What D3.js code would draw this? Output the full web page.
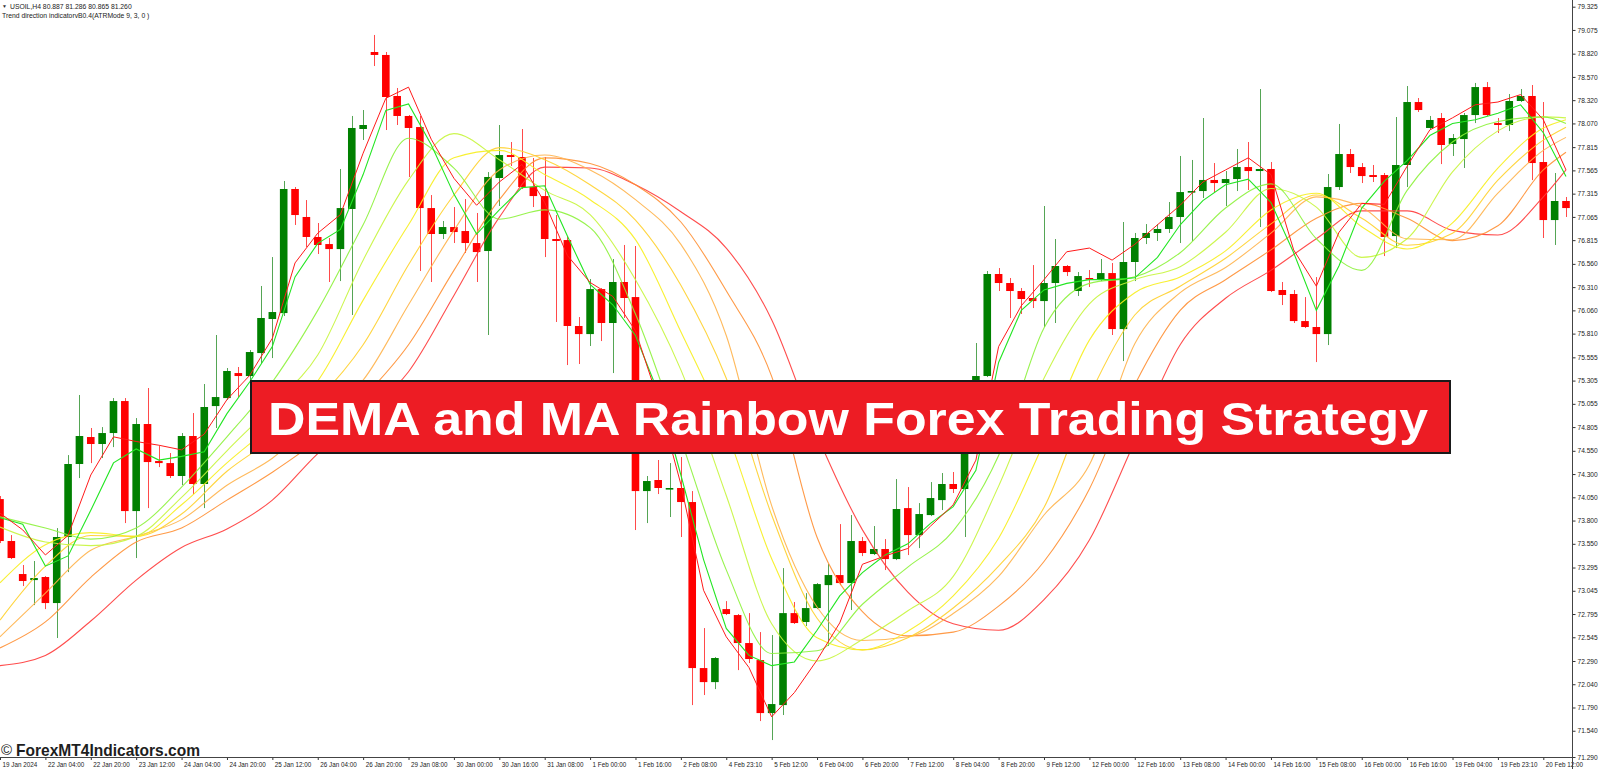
<!DOCTYPE html>
<html><head><meta charset="utf-8">
<script src="https://cdn.jsdelivr.net/npm/d3@7"></script>
<style>
html,body{margin:0;padding:0;background:#fff;overflow:hidden}
svg{display:block}
</style></head><body>
<svg id="chart" width="1600" height="769"></svg>
<script>
const symbolInfo = "USOIL,H4  80.887 81.286 80.865 81.260";
const indicatorInfo = "Trend direction indicatorvB0.4(ATRMode 9, 3, 0 )";
const titleText = "DEMA and MA Rainbow Forex Trading Strategy";
const watermarkText = "ForexMT4Indicators.com";

const timeLabels = ["19 Jan 2024","22 Jan 04:00","22 Jan 20:00","23 Jan 12:00","24 Jan 04:00","24 Jan 20:00","25 Jan 12:00","26 Jan 04:00","26 Jan 20:00","29 Jan 08:00","30 Jan 00:00","30 Jan 16:00","31 Jan 08:00","1 Feb 00:00","1 Feb 16:00","2 Feb 08:00","4 Feb 23:10","5 Feb 12:00","6 Feb 04:00","6 Feb 20:00","7 Feb 12:00","8 Feb 04:00","8 Feb 20:00","9 Feb 12:00","12 Feb 00:00","12 Feb 16:00","13 Feb 08:00","14 Feb 00:00","14 Feb 16:00","15 Feb 08:00","16 Feb 00:00","16 Feb 16:00","19 Feb 04:00","19 Feb 23:10","20 Feb 12:00"];
const priceLabels = ["79.325","79.075","78.820","78.570","78.320","78.070","77.815","77.565","77.315","77.065","76.815","76.560","76.310","76.060","75.810","75.555","75.305","75.055","74.805","74.550","74.300","74.050","73.800","73.550","73.295","73.045","72.795","72.545","72.290","72.040","71.790","71.540","71.290"];

const opens = [74.031,73.580,73.225,73.160,73.193,72.913,73.623,74.408,74.698,74.623,74.741,75.085,73.902,74.838,74.440,74.418,74.279,74.709,74.193,75.031,75.117,75.386,75.354,75.601,75.967,76.031,77.365,77.064,76.849,76.773,76.719,77.150,78.010,78.838,78.806,78.365,78.150,78.031,77.160,76.881,76.956,76.913,76.784,76.698,77.483,77.730,77.709,77.386,77.289,76.827,76.816,75.892,75.805,76.289,75.924,76.365,76.203,74.117,74.236,74.139,74.150,73.999,72.214,72.063,72.848,72.784,72.483,72.300,71.730,71.816,72.805,72.709,72.859,73.106,73.214,73.128,73.580,73.440,73.494,73.386,73.934,73.644,73.859,74.020,74.193,74.139,74.881,75.354,76.451,76.354,76.268,76.193,76.160,76.354,76.537,76.268,76.408,76.397,76.461,75.859,76.580,76.838,76.892,76.935,77.064,77.332,77.343,77.462,77.429,77.472,77.601,77.558,77.580,76.279,76.236,75.945,75.881,75.805,77.386,77.741,77.601,77.515,77.515,76.859,77.623,78.300,78.021,78.128,77.849,77.902,78.160,78.461,78.074,78.053,78.311,78.365,77.655,77.031,77.236];
const highs = [74.064,73.644,73.322,73.365,73.203,73.719,74.504,75.150,74.795,74.805,75.117,75.117,74.902,75.225,74.601,74.526,74.741,74.956,75.268,75.795,75.440,75.451,75.633,76.322,76.633,77.451,77.386,77.246,76.999,76.838,77.580,78.150,78.214,79.021,78.838,78.451,78.160,78.150,77.300,77.021,77.171,77.257,77.107,77.547,78.053,77.870,78.010,77.698,77.709,77.085,76.859,75.988,76.397,76.300,76.612,76.763,76.752,74.279,74.451,74.418,74.483,74.117,72.644,72.332,72.934,72.795,72.805,72.601,72.569,73.289,72.924,73.020,73.128,73.332,73.762,73.859,73.623,73.741,73.601,74.246,74.160,73.988,74.214,74.311,74.322,74.935,75.709,76.483,76.515,76.408,76.300,76.547,77.182,76.827,76.547,76.472,76.494,76.612,76.569,77.010,76.892,76.988,76.988,77.225,77.720,77.677,78.128,77.644,77.558,77.795,77.870,78.440,77.655,76.365,76.279,76.203,76.418,77.526,78.064,77.795,77.644,77.623,77.537,78.139,78.472,78.343,78.150,78.182,77.956,78.182,78.505,78.515,78.128,78.386,78.440,78.483,78.300,77.537,77.279];
const lows = [73.558,73.386,73.096,72.891,72.848,72.537,73.246,74.257,74.418,74.472,74.590,73.773,73.397,73.934,74.375,74.257,74.182,74.085,73.934,74.795,75.096,75.128,75.311,75.494,75.547,75.999,76.978,76.741,76.666,76.365,76.375,76.010,77.892,78.687,77.999,78.053,77.494,76.483,76.365,76.827,76.784,76.677,76.365,75.795,77.182,77.612,77.365,77.171,76.633,75.935,75.472,75.483,75.677,75.730,75.386,75.978,73.698,73.773,74.085,73.838,73.623,71.816,71.924,71.988,72.784,72.192,72.268,71.644,71.440,71.709,72.688,72.666,72.848,72.451,73.106,72.838,73.418,73.429,73.268,73.375,73.429,73.504,73.848,73.913,74.096,73.623,74.827,75.343,76.268,75.978,76.021,76.085,75.881,75.924,76.429,76.214,76.311,76.375,75.795,75.515,76.375,76.773,76.806,76.892,76.784,76.806,77.268,77.322,77.182,77.343,77.354,76.956,76.257,76.117,75.924,75.870,75.504,75.687,77.354,77.537,77.429,77.440,76.644,76.730,77.386,78.193,78.010,77.633,77.720,77.591,78.074,78.150,77.967,77.988,78.300,77.461,76.838,76.763,77.064];
const closes = [73.580,73.397,73.150,73.182,72.913,73.623,74.408,74.709,74.623,74.741,75.085,73.902,74.838,74.429,74.418,74.279,74.709,74.193,75.021,75.128,75.408,75.354,75.612,75.978,76.042,77.365,77.085,76.849,76.763,76.719,77.160,78.021,78.053,78.806,78.354,78.150,78.021,77.160,76.881,76.956,76.902,76.784,76.687,77.494,77.730,77.709,77.386,77.289,76.827,76.806,75.892,75.805,76.289,75.924,76.365,76.193,74.117,74.225,74.150,74.150,73.999,72.214,72.063,72.322,72.795,72.483,72.311,71.730,71.827,72.805,72.698,72.859,73.117,73.214,73.128,73.580,73.451,73.494,73.386,73.924,73.644,73.870,74.042,74.193,74.139,74.881,75.354,76.451,76.354,76.268,76.182,76.160,76.354,76.537,76.472,76.429,76.397,76.461,75.859,76.580,76.838,76.892,76.935,77.064,77.332,77.343,77.462,77.429,77.472,77.601,77.558,77.580,76.268,76.225,75.945,75.881,75.805,77.386,77.741,77.601,77.504,77.494,76.849,77.623,78.300,78.214,78.107,77.838,77.913,78.160,78.461,78.160,78.053,78.311,78.365,77.644,77.031,77.236,77.160];

// indicator readings (every 2nd bar for the fast lines, every 4th for the rainbow MAs)
const demaValues = [73.88,73.70,73.43,73.64,74.29,74.70,74.65,74.61,74.56,74.73,75.10,75.36,75.76,76.57,76.89,77.09,77.75,78.34,78.46,77.90,77.48,77.19,77.44,77.63,77.22,76.65,76.36,76.21,75.84,75.10,74.19,73.05,72.55,72.22,71.69,71.95,72.30,72.70,73.33,73.42,73.50,73.74,73.97,74.45,75.67,76.11,76.39,76.69,76.73,76.60,76.77,76.98,77.19,77.44,77.57,77.70,77.52,76.71,76.32,76.90,77.21,77.20,77.61,78.00,78.13,78.27,78.30,78.38,78.11,77.57];
const ma1Values = [73.83,73.76,73.31,73.42,73.91,74.42,74.57,74.45,74.49,74.54,74.95,75.29,75.67,76.42,76.78,76.93,77.52,78.21,78.28,77.84,77.31,76.88,77.14,77.38,77.40,76.86,76.34,76.12,75.79,75.18,74.29,73.38,72.64,72.35,72.24,72.28,72.62,72.99,73.24,73.43,73.55,73.77,73.95,74.34,75.50,76.06,76.28,76.35,76.39,76.39,76.41,76.63,76.98,77.24,77.41,77.47,77.22,76.68,76.06,76.54,77.16,77.45,77.67,77.94,78.07,78.11,78.18,78.27,77.97,77.50];
const ma2Values = [73.84,73.72,73.60,73.72,74.16,74.70,75.29,76.06,76.98,77.91,77.59,77.04,77.14,76.95,76.02,74.67,73.27,72.37,72.40,72.90,73.30,73.69,74.50,75.87,76.35,76.42,76.68,77.16,77.42,76.83,76.49,77.35,77.87,78.09,78.14,78.07];
const ma3Values = [73.73,73.57,73.53,73.63,74.05,74.55,75.04,75.58,76.60,77.46,77.96,77.68,77.35,77.09,76.39,75.42,74.07,72.69,72.29,72.52,72.83,73.20,74.17,75.33,76.13,76.39,76.53,76.90,77.37,77.17,76.63,76.83,77.55,77.99,78.14,78.13];
const ma4Values = [73.13,73.54,73.67,73.63,73.97,74.42,74.83,75.30,76.17,76.98,77.70,77.78,77.52,77.25,76.82,75.83,74.77,73.39,72.54,72.41,72.61,72.99,73.61,74.64,75.74,76.25,76.42,76.70,77.14,77.32,76.96,76.72,77.00,77.59,78.02,78.11];
const ma5Values = [72.73,73.31,73.64,73.63,73.87,74.33,74.68,75.10,75.69,76.55,77.30,77.81,77.68,77.41,77.03,76.33,75.33,73.86,72.75,72.41,72.54,72.86,73.31,73.94,75.14,76.01,76.32,76.62,76.99,77.30,77.05,76.76,76.89,77.46,77.89,78.03];
const ma6Values = [72.55,73.02,73.48,73.63,73.81,74.18,74.47,74.90,75.31,76.12,76.92,77.57,77.73,77.57,77.25,76.77,75.79,73.96,72.87,72.51,72.55,72.80,73.20,73.86,74.40,75.70,76.25,76.52,76.89,77.28,77.17,76.83,76.82,77.32,77.78,77.92];
const ma7Values = [72.43,72.71,73.19,73.57,73.72,74.02,74.32,74.67,75.12,75.69,76.49,77.25,77.70,77.64,77.41,77.01,76.27,75.35,73.62,72.82,72.56,72.60,72.88,73.36,74.14,75.26,76.06,76.39,76.71,77.05,77.21,77.05,76.81,76.97,77.57,77.76];
const ma8Values = [72.24,72.35,72.72,73.16,73.51,73.71,74.02,74.52,74.93,75.40,76.22,77.06,77.60,77.59,77.41,77.12,76.73,75.96,74.72,73.70,73.03,72.69,72.62,72.95,73.59,74.65,75.69,76.19,76.49,76.83,77.13,77.13,76.92,76.87,77.28,77.57];

const lineColors = ["#ff1a1a","#22e622","#8cf23a","#c6f53c","#f7ee1c","#ffd02a","#ffb24a","#ff8f33","#ff3a3a"];

const fastIdx = d3.range(0, 139, 2);
const slowIdx = d3.range(0, 137, 4).concat([138]);
const tickBars = d3.range(0, 137, 4);

const plotRight = 1572.5, plotBottom = 757;
const svg = d3.select('#chart');
const x = d3.scaleLinear().domain([0, 138]).range([0, 1566]);
const y = d3.scaleLinear().domain([71.290, 79.325]).range([754, 6.7]);

svg.append('rect').attr('width',1600).attr('height',769).attr('fill','#fff');
svg.append('defs').append('clipPath').attr('id','plotclip')
  .append('rect').attr('x',0).attr('y',0).attr('width',plotRight).attr('height',plotBottom);
const g = svg.append('g').attr('clip-path','url(#plotclip)');

// candles
const bars = d3.range(opens.length).map(i => ({i, o:opens[i], h:highs[i], l:lows[i], c:closes[i]}));
g.append('g').selectAll('line').data(bars).join('line')
  .attr('x1', d => Math.round(x(d.i)) + 0.5).attr('x2', d => Math.round(x(d.i)) + 0.5)
  .attr('y1', d => y(d.h)).attr('y2', d => y(d.l))
  .attr('stroke', d => d.c >= d.o ? '#55a555' : '#ff4a4a').attr('stroke-width', 1);
g.append('g').selectAll('rect').data(bars).join('rect')
  .attr('x', d => x(d.i) - 3.8).attr('width', 7.6)
  .attr('y', d => y(Math.max(d.o, d.c)))
  .attr('height', d => Math.max(1.6, Math.abs(y(d.o) - y(d.c))))
  .attr('fill', d => d.c >= d.o ? '#008000' : '#ff0000');

// rainbow MA lines + DEMA
const slowSeries = [ma8Values, ma7Values, ma6Values, ma5Values, ma4Values, ma3Values, ma2Values];
const slowColors = [lineColors[8], lineColors[7], lineColors[6], lineColors[5], lineColors[4], lineColors[3], lineColors[2]];
const slowLine = d3.line().x((d,k) => x(slowIdx[k])).y(d => y(d)).curve(d3.curveMonotoneX);
slowSeries.forEach((s, k) => {
  g.append('path').attr('d', slowLine(s)).attr('fill','none')
    .attr('stroke', slowColors[k]).attr('stroke-width', 1.1).attr('opacity', 0.9);
});
const fastLine = d3.line().x((d,k) => x(fastIdx[k])).y(d => y(d)).curve(d3.curveLinear);
g.append('path').attr('d', fastLine(ma1Values)).attr('fill','none').attr('stroke', lineColors[1]).attr('stroke-width',1.1);
g.append('path').attr('d', fastLine(demaValues)).attr('fill','none').attr('stroke', lineColors[0]).attr('stroke-width',1);

// axes
const font = "'Liberation Sans', Arial, sans-serif";
const yAxis = d3.axisRight(y).tickValues(priceLabels.map(Number)).tickFormat((d,i) => priceLabels[i]).tickSize(3).tickSizeOuter(0).tickPadding(2);
const ya = svg.append('g').attr('transform', `translate(${plotRight},0)`).call(yAxis);
ya.select('.domain').remove();
ya.selectAll('text').attr('font-family', font).attr('font-size', 6.6).attr('fill', '#222');
ya.selectAll('line').attr('stroke', '#333');
ya.selectAll('.tick').filter(d => y(d) > plotBottom - 5).attr('transform', `translate(0,757.5)`);

const xAxis = d3.axisBottom(x).tickValues(tickBars).tickFormat((d,i) => timeLabels[i]).tickSize(3).tickSizeOuter(0).tickPadding(2);
const xa = svg.append('g').attr('transform', `translate(0,${plotBottom})`).call(xAxis);
xa.select('.domain').remove();
xa.selectAll('text').attr('font-family', font).attr('font-size', 6.3).attr('fill', '#222')
  .attr('text-anchor','start').attr('dx', 2).attr('dy', '0.85em');
xa.selectAll('line').attr('stroke', '#333');

// frame lines
svg.append('line').attr('x1', plotRight).attr('x2', plotRight).attr('y1', 0).attr('y2', 769).attr('stroke', '#444').attr('stroke-width', 1);
svg.append('line').attr('x1', 0).attr('x2', plotRight).attr('y1', plotBottom + 0.5).attr('y2', plotBottom + 0.5).attr('stroke', '#444').attr('stroke-width', 1);

// header
svg.append('text').attr('x', 2).attr('y', 8).attr('font-family', font).attr('font-size', 5).attr('fill', '#333').text('▼');
svg.append('text').attr('x', 10).attr('y', 8.5).attr('font-family', font).attr('font-size', 6.8).attr('fill', '#222').text(symbolInfo);
svg.append('text').attr('x', 2).attr('y', 17.5).attr('font-family', font).attr('font-size', 6.8).attr('fill', '#222').text(indicatorInfo);

// title banner
svg.append('rect').attr('x', 251).attr('y', 381).attr('width', 1199).attr('height', 72)
  .attr('fill', '#ed1c24').attr('stroke', '#1a1a1a').attr('stroke-width', 2);
svg.append('text').attr('x', 268).attr('y', 435).attr('font-family', font).attr('font-weight', 'bold')
  .attr('font-size', 46.5).attr('fill', '#fff').attr('textLength', 1160).attr('lengthAdjust', 'spacingAndGlyphs')
  .text(titleText);

// watermark
svg.append('text').attr('x', 1).attr('y', 755).attr('font-family', font).attr('font-size', 15).attr('fill', '#222').text('©');
svg.append('text').attr('x', 16).attr('y', 755.5).attr('font-family', font).attr('font-weight', 'bold')
  .attr('font-size', 16.5).attr('fill', '#1e1e1e').attr('textLength', 184).attr('lengthAdjust', 'spacingAndGlyphs')
  .text(watermarkText);
</script>
</body></html>
